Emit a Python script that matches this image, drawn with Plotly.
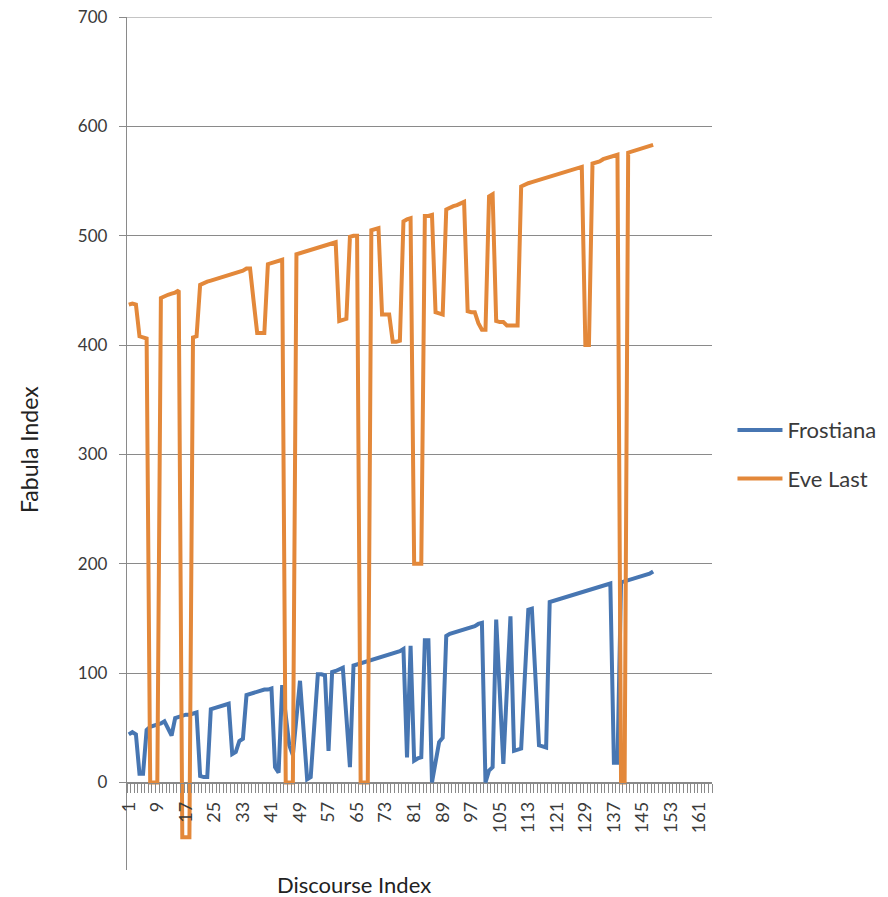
import plotly.graph_objects as go

# ---- data ----
discourse_index = list(range(1, 149))

frostiana = [
    44, 46, 44, 8, 8, 48, 51, 52, 53, 54,
    56, 50, 43, 59, 60, 61, 62, 62, 63, 64,
    6, 5, 5, 67, 68, 69, 70, 71, 72, 26,
    28, 38, 40, 80, 81, 82, 83, 84, 85, 85,
    86, 14, 9, 89, 60, 34, 25, 60, 93, 48,
    3, 5, 52, 99, 99, 98, 29, 101, 102, 104,
    105, 60, 14, 107, 108, 109, 110, 111, 112, 113,
    114, 115, 116, 117, 118, 119, 120, 122, 23, 125,
    20, 22, 23, 130, 130, 0, 20, 37, 41, 134,
    136, 137, 138, 139, 140, 141, 142, 143, 145, 146,
    0, 11, 14, 149, 83, 17, 85, 152, 29, 30,
    31, 95, 158, 159, 96, 34, 33, 32, 165, 166,
    167, 168, 169, 170, 171, 172, 173, 174, 175, 176,
    177, 178, 179, 180, 181, 182, 18, 18, 183, 184,
    185, 186, 187, 188, 189, 190, 191, 193,
]

eve_last = [
    437, 438, 437, 408, 407, 406, 0, 0, 0, 443,
    445, 446, 447, 448, 450, -50, -50, -50, 407, 408,
    455, 457, 458, 459, 460, 461, 462, 463, 464, 465,
    466, 467, 468, 470, 470, 440, 411, 411, 411, 474,
    475, 476, 477, 478, 0, 0, 0, 483, 484, 485,
    486, 487, 488, 489, 490, 491, 492, 493, 494, 422,
    423, 424, 499, 500, 500, 0, 0, 0, 505, 506,
    507, 428, 428, 428, 403, 403, 404, 513, 515, 516,
    200, 200, 200, 518, 518, 519, 430, 429, 428, 524,
    526, 527, 528, 530, 531, 431, 430, 430, 420, 414,
    414, 536, 538, 422, 421, 421, 418, 418, 418, 418,
    545, 547, 548, 549, 550, 551, 552, 553, 554, 555,
    556, 557, 558, 559, 560, 561, 562, 563, 400, 400,
    566, 567, 568, 570, 571, 572, 573, 574, 0, 0,
    576, 577, 578, 579, 580, 581, 582, 583,
]

x_tick_values = [1, 9, 17, 25, 33, 41, 49, 57, 65, 73, 81, 89, 97, 105,
                 113, 121, 129, 137, 145, 153, 161]
x_tick_labels = [str(v) for v in x_tick_values]
y_tick_values = [0, 100, 200, 300, 400, 500, 600, 700]
y_tick_labels = ["0", "100", "200", "300", "400", "500", "600", "700"]

BLUE = "#4776B2"
ORANGE = "#E3883A"
FONT = "Lato, 'Open Sans', sans-serif"
AXIS_GRAY = "#8a8a8a"
TEXT = "#3a3a3a"

fig = go.Figure()
fig.add_trace(go.Scatter(
    x=discourse_index, y=frostiana, mode="lines", name="Frostiana",
    line=dict(color=BLUE, width=4), legendgroup="a",
))
fig.add_trace(go.Scatter(
    x=discourse_index, y=eve_last, mode="lines", name="Eve Last",
    line=dict(color=ORANGE, width=4), legendgroup="b",
))

Y_MIN, Y_MAX = -80, 700
fig.update_layout(
    width=888, height=897,
    margin=dict(l=127, r=176, t=17, b=27, autoexpand=False),
    paper_bgcolor="white", plot_bgcolor="white",
    font=dict(family=FONT, color=TEXT),
    showlegend=True,
    legend=dict(
        x=1.035, xanchor="left", y=0.487, yanchor="middle",
        font=dict(size=22, color=TEXT),
        traceorder="grouped", tracegroupgap=17,
        itemwidth=45,
        bgcolor="rgba(0,0,0,0)",
    ),
    xaxis=dict(
        range=[0.5, 164.5], automargin=False,
        anchor="free", position=(0 - Y_MIN) / (Y_MAX - Y_MIN),
        showline=True, linecolor=AXIS_GRAY, linewidth=1.3,
        showgrid=False, zeroline=False,
        tickmode="array", tickvals=x_tick_values, ticktext=x_tick_labels,
        tickangle=-90, ticks="", ticklabelstandoff=11,
        ticklabeloverflow="allow",
        tickfont=dict(size=18, color=TEXT),
        minor=dict(tick0=0.5, dtick=1, ticks="outside", ticklen=9,
                   tickcolor=AXIS_GRAY, tickwidth=1, showgrid=False),
    ),
    yaxis=dict(
        range=[Y_MIN, Y_MAX], automargin=False,
        tickmode="array", tickvals=y_tick_values, ticktext=y_tick_labels,
        showline=True, linecolor=AXIS_GRAY, linewidth=1.3,
        showgrid=True, gridcolor=AXIS_GRAY, gridwidth=1.2,
        zeroline=False,
        ticks="outside", ticklen=7, tickcolor=AXIS_GRAY,
        ticklabelstandoff=8, ticklabeloverflow="allow",
        tickfont=dict(size=17, color=TEXT),
    ),
    shapes=[
        # top gridline (plotly omits the grid line lying on the range edge)
        dict(type="line", xref="paper", yref="y", x0=0, x1=1,
             y0=Y_MAX, y1=Y_MAX, line=dict(color=AXIS_GRAY, width=1.2),
             layer="below"),
    ],
    annotations=[
        dict(text="Discourse Index", xref="paper", yref="paper",
             x=(354 - 127) / 585, y=(870 - 884) / 853,
             xanchor="center", yanchor="middle", showarrow=False,
             font=dict(size=22, color="#222222", family=FONT)),
        dict(text="Fabula Index", xref="paper", yref="paper",
             x=(29 - 127) / 585, y=(870 - 450) / 853, textangle=-90,
             xanchor="center", yanchor="middle", showarrow=False,
             font=dict(size=23, color="#222222", family=FONT)),
    ],
)

# remove the browser's default 8px page margin so the figure sits at (0, 0)
fig.write_html(
    "out.html",
    config={"displayModeBar": False},
    post_script="document.body.style.margin='0';document.body.style.overflow='hidden';",
)
